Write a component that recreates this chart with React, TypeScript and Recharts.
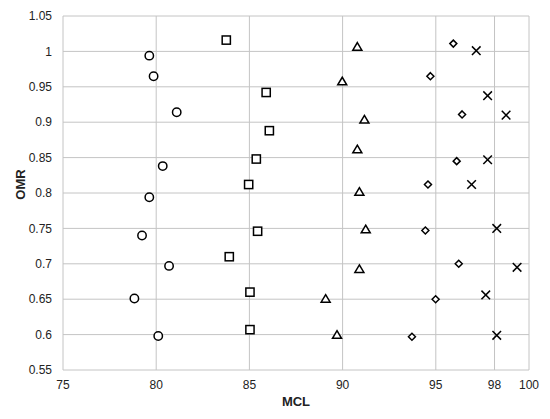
import React from 'react';
import { ScatterChart, Scatter, XAxis, YAxis, CartesianGrid } from 'recharts';

// Series values (MCL = x, OMR = y)
const circleX = [79.63, 79.86, 81.1, 80.35, 79.63, 79.24, 80.69, 78.83, 80.11];
const circleY = [0.994, 0.965, 0.914, 0.838, 0.794, 0.74, 0.697, 0.651, 0.598];
const squareX = [83.76, 85.9, 86.07, 85.37, 84.96, 85.44, 83.92, 85.03, 85.03];
const squareY = [1.016, 0.942, 0.888, 0.848, 0.812, 0.746, 0.71, 0.66, 0.607];
const triangleX = [90.79, 89.98, 91.17, 90.79, 90.9, 91.24, 90.9, 89.09, 89.7];
const triangleY = [1.006, 0.957, 0.903, 0.861, 0.801, 0.748, 0.692, 0.65, 0.599];
const diamondX = [95.94, 94.71, 96.41, 96.12, 94.58, 94.44, 96.23, 94.99, 93.72];
const diamondY = [1.011, 0.965, 0.911, 0.845, 0.812, 0.747, 0.7, 0.65, 0.597];
const crossX = [97.17, 97.78, 98.77, 97.78, 96.92, 98.27, 99.36, 97.68, 98.27];
const crossY = [1.001, 0.9375, 0.91, 0.847, 0.812, 0.75, 0.695, 0.656, 0.599];

// Axis ticks (the "98" gridline sits slightly right of 98 in the source)
const xTicks = [75, 80, 85, 90, 95, 98.15, 100];
const xTickLabels = ['75', '80', '85', '90', '95', '98', '100'];
const yTicks = [0.55, 0.6, 0.65, 0.7, 0.75, 0.8, 0.85, 0.9, 0.95, 1, 1.05];
const yTickLabels = ['0.55', '0.6', '0.65', '0.7', '0.75', '0.8', '0.85', '0.9', '0.95', '1', '1.05'];

const zip = (xs: number[], ys: number[]) => xs.map((x, i) => ({ x, y: ys[i] }));

const FONT = '"Liberation Sans", Arial, sans-serif';
const INK = '#000';
const SW = 1.5;

const CircleShape = (p: any) => (
  <circle cx={p.cx} cy={p.cy} r={4.2} fill="#fff" stroke={INK} strokeWidth={SW} />
);
const SquareShape = (p: any) => (
  <rect x={p.cx - 4.1} y={p.cy - 4.1} width={8.2} height={8.2} fill="#fff" stroke={INK} strokeWidth={SW} />
);
const TriangleShape = (p: any) => (
  <polygon
    points={`${p.cx},${p.cy - 4.6} ${p.cx + 4.5},${p.cy + 3} ${p.cx - 4.5},${p.cy + 3}`}
    fill="#fff"
    stroke={INK}
    strokeWidth={SW}
  />
);
const DiamondShape = (p: any) => (
  <polygon
    points={`${p.cx},${p.cy - 3.5} ${p.cx + 3.5},${p.cy} ${p.cx},${p.cy + 3.5} ${p.cx - 3.5},${p.cy}`}
    fill="#fff"
    stroke={INK}
    strokeWidth={SW}
  />
);
const CrossShape = (p: any) => (
  <g stroke={INK} strokeWidth={SW}>
    <line x1={p.cx - 4.3} y1={p.cy - 4.3} x2={p.cx + 4.3} y2={p.cy + 4.3} />
    <line x1={p.cx - 4.3} y1={p.cy + 4.3} x2={p.cx + 4.3} y2={p.cy - 4.3} />
  </g>
);

const XLabel = (props: any) => {
  const vb = props.viewBox;
  return (
    <text x={vb.x + vb.width / 2} y={vb.y + 36.4} textAnchor="middle" fontFamily={FONT} fontSize={13} fontWeight="bold" fill="#222">
      MCL
    </text>
  );
};
const YLabel = (props: any) => {
  const vb = props.viewBox;
  const x = 25.3;
  const y = vb.y + vb.height / 2 - 8.5;
  return (
    <text x={x} y={y} transform={`rotate(-90, ${x}, ${y})`} textAnchor="middle" fontFamily={FONT} fontSize={13} fontWeight="bold" fill="#222">
      OMR
    </text>
  );
};

export default function App() {
  return (
    <div style={{ position: 'absolute', left: 0, top: 0, background: '#fff' }}>
      <ScatterChart width={550} height={419} margin={{ top: 16, right: 21, bottom: 0, left: 0 }}>
        <CartesianGrid stroke="#c4c4c4" strokeWidth={1} horizontalValues={yTicks} verticalValues={xTicks} />
        <XAxis
          type="number"
          dataKey="x"
          domain={[75, 100]}
          ticks={xTicks}
          tickFormatter={(v: number) => xTickLabels[xTicks.indexOf(v)]}
          height={49}
          axisLine={false}
          tickLine={false}
          tickSize={0}
          tickMargin={10}
          tick={{ fontFamily: FONT, fontSize: 12, fill: '#222' }}
          interval={0}
          allowDataOverflow
          label={<XLabel />}
        />
        <YAxis
          type="number"
          dataKey="y"
          domain={[0.55, 1.05]}
          ticks={yTicks}
          tickFormatter={(v: number) => yTickLabels[yTicks.indexOf(v)]}
          width={63}
          axisLine={false}
          tickLine={false}
          tickSize={0}
          tickMargin={11}
          tick={{ fontFamily: FONT, fontSize: 12, fill: '#222' }}
          interval={0}
          allowDataOverflow
          label={<YLabel />}
        />
        <Scatter data={zip(circleX, circleY)} shape={CircleShape} isAnimationActive={false} />
        <Scatter data={zip(squareX, squareY)} shape={SquareShape} isAnimationActive={false} />
        <Scatter data={zip(triangleX, triangleY)} shape={TriangleShape} isAnimationActive={false} />
        <Scatter data={zip(diamondX, diamondY)} shape={DiamondShape} isAnimationActive={false} />
        <Scatter data={zip(crossX, crossY)} shape={CrossShape} isAnimationActive={false} />
      </ScatterChart>
    </div>
  );
}
